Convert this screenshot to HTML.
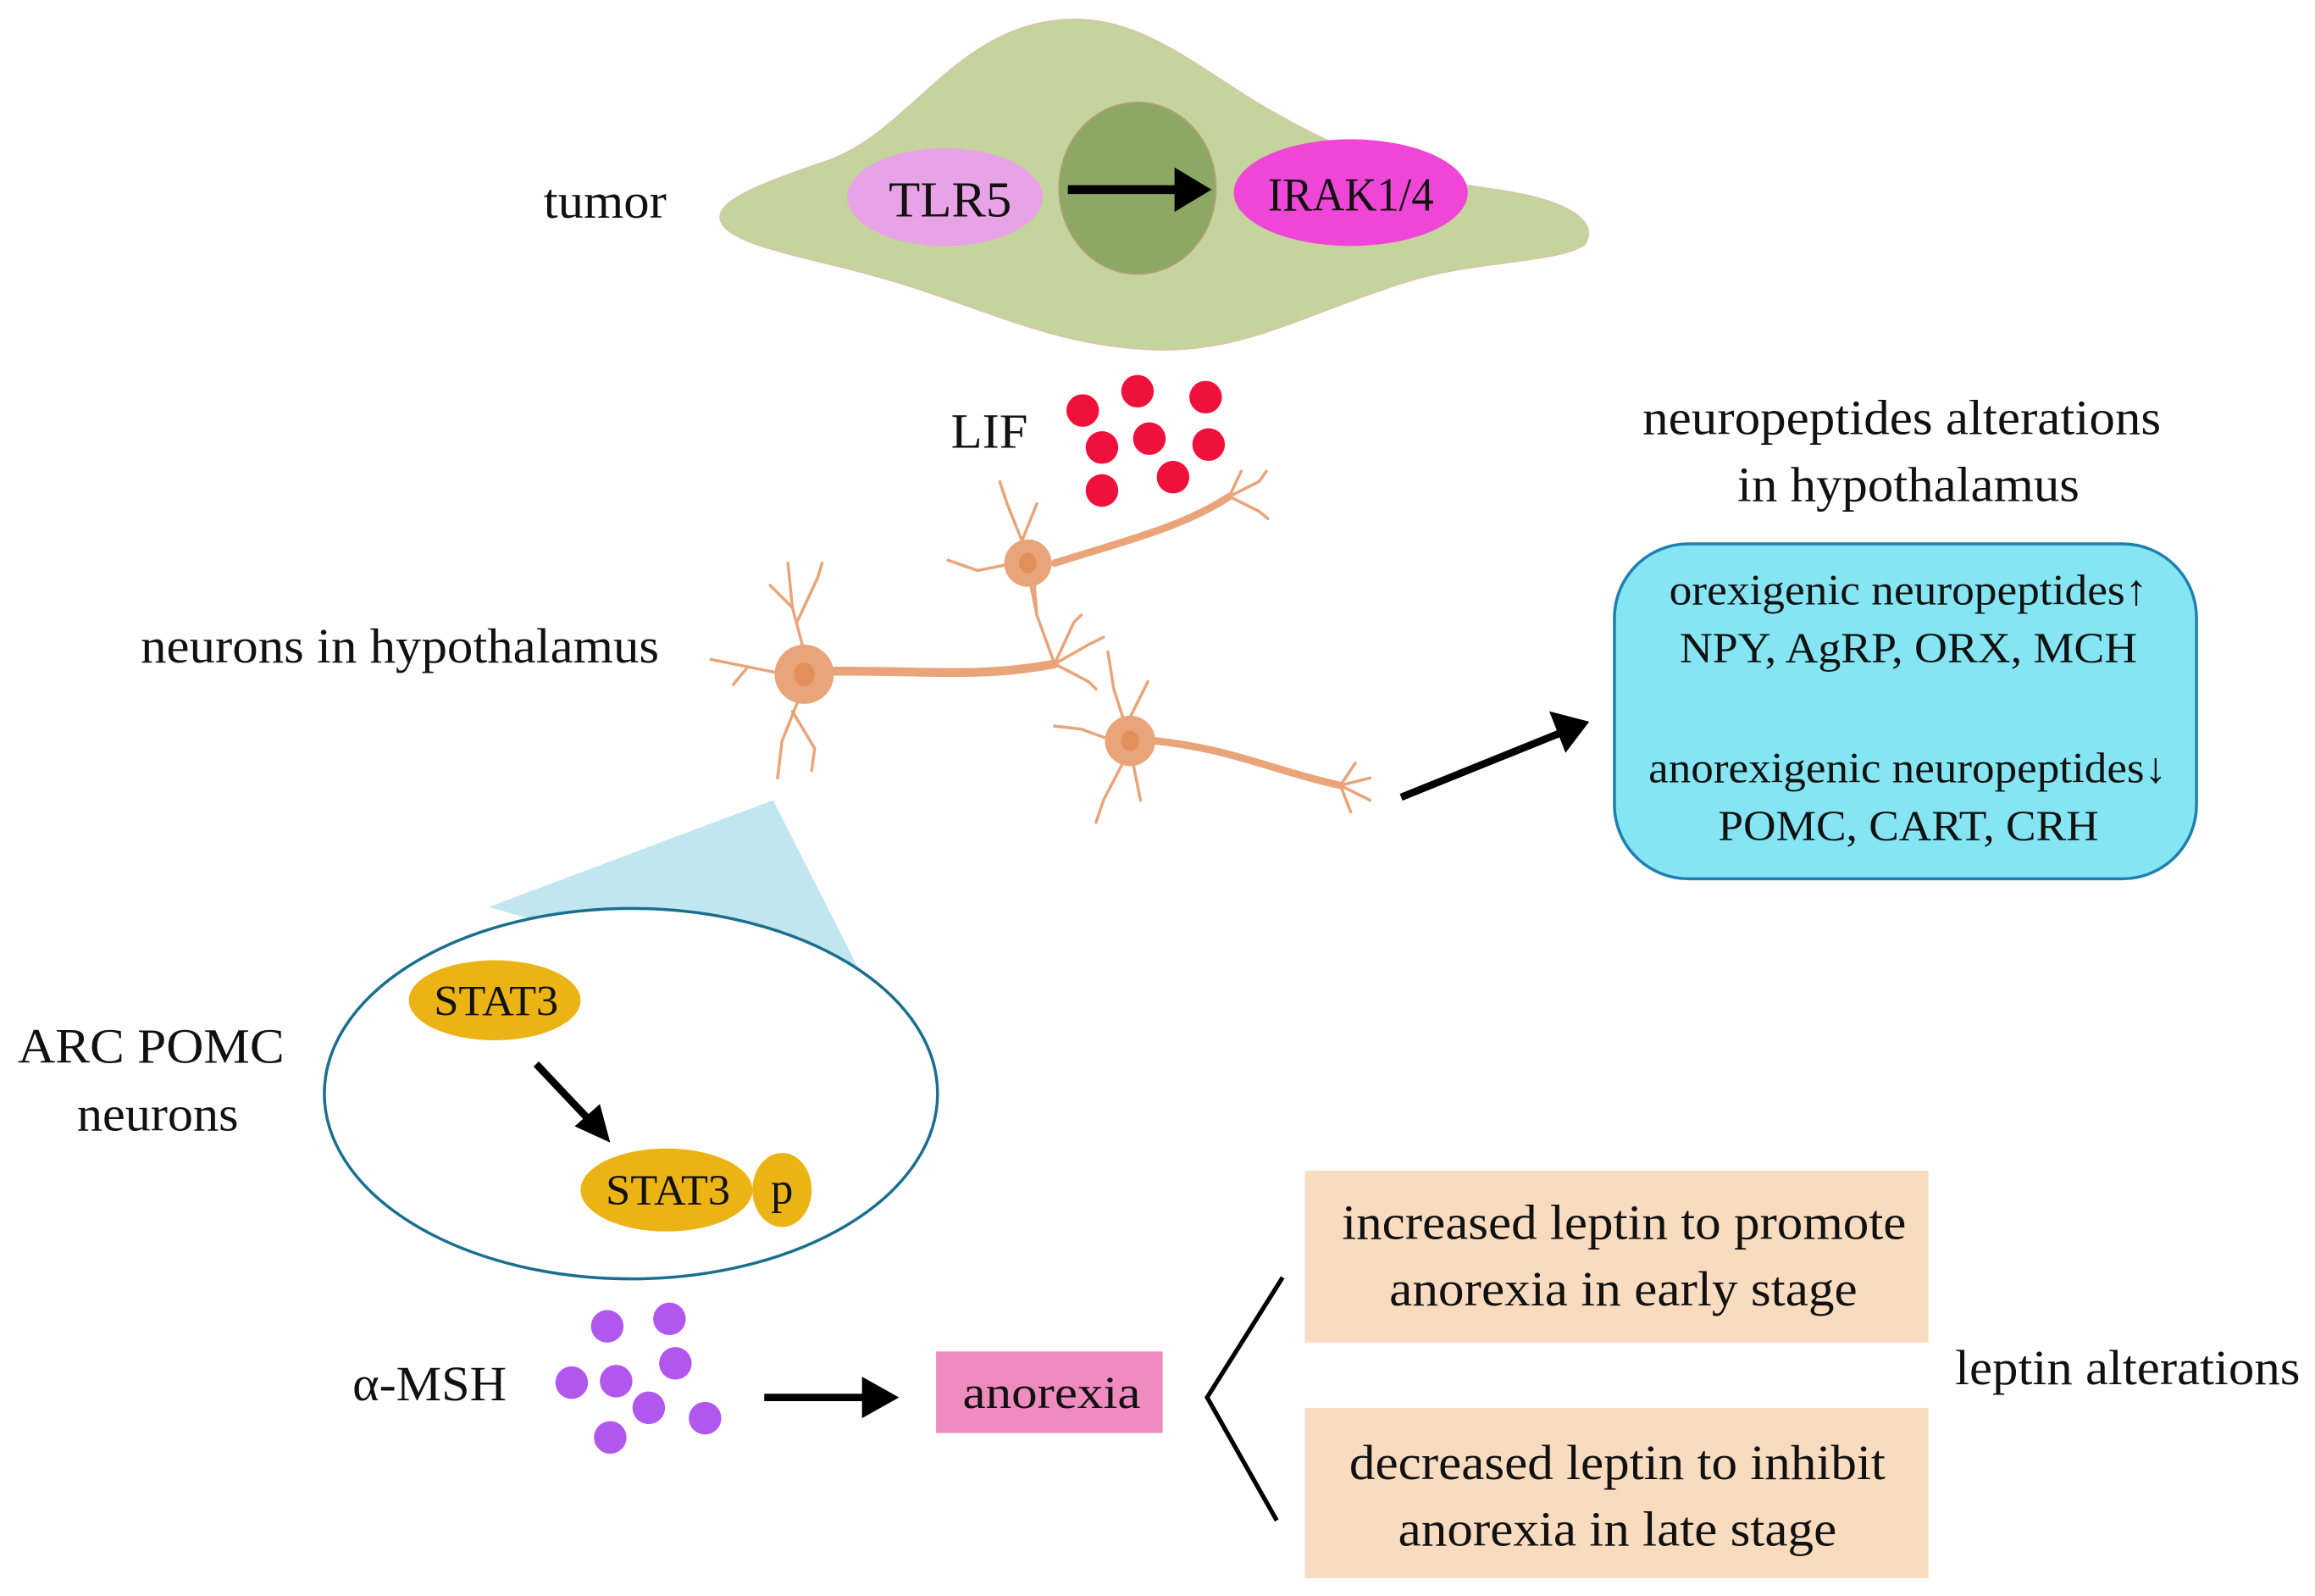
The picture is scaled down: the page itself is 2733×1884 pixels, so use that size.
<!DOCTYPE html>
<html><head><meta charset="utf-8"><style>
html,body{margin:0;padding:0;background:#fff;}
svg{display:block;}
text{font-family:"Liberation Serif",serif;fill:#111;}
</style></head><body>
<svg width="2733" height="1884" viewBox="0 0 1563 1077" preserveAspectRatio="none" xmlns="http://www.w3.org/2000/svg">
<!-- tumor -->
<path d="M487,150 C480,135 520,122 560,108 C610,90 640,30 700,16 C760,2 800,40 850,70 C900,100 950,120 1010,128 C1060,135 1080,150 1070,165 C1050,178 1000,175 950,190 C880,212 840,238 780,236 C720,234 680,215 620,195 C560,175 495,168 487,150 Z" fill="#c5d39c" stroke="#d8c6a8" stroke-width="1"/>
<ellipse cx="768" cy="127" rx="53" ry="58" fill="#8da865" stroke="#b39f77" stroke-width="1"/>
<ellipse cx="638" cy="133" rx="66" ry="33" fill="#e8a2e6"/>
<ellipse cx="912" cy="130" rx="79" ry="36" fill="#f046d8"/>
<text x="600" y="146" font-size="34" textLength="83" lengthAdjust="spacingAndGlyphs">TLR5</text>
<text x="856" y="142" font-size="32" textLength="112" lengthAdjust="spacingAndGlyphs">IRAK1/4</text>
<line x1="721" y1="128" x2="795" y2="128" stroke="#000" stroke-width="6"/>
<path d="M793,113 L818,128 L793,143 Z" fill="#000"/>
<text x="367" y="147" font-size="33" textLength="83" lengthAdjust="spacingAndGlyphs">tumor</text>
<!-- LIF -->
<text x="642" y="302" font-size="33" textLength="52" lengthAdjust="spacingAndGlyphs">LIF</text>
<g fill="#f0103c">
<ellipse cx="731" cy="277" rx="11" ry="11"/><ellipse cx="768" cy="264" rx="11" ry="11"/><ellipse cx="814" cy="268" rx="11" ry="11"/>
<ellipse cx="744" cy="302" rx="11" ry="11"/><ellipse cx="776" cy="296" rx="11" ry="11"/><ellipse cx="816" cy="300" rx="11" ry="11"/>
<ellipse cx="744" cy="331" rx="11" ry="11"/><ellipse cx="792" cy="322" rx="11" ry="11"/>
</g>
<text x="95" y="447" font-size="33" textLength="350" lengthAdjust="spacingAndGlyphs">neurons in hypothalamus</text>
<!-- neurons -->
<g stroke="#eaa47a" fill="none" stroke-linecap="round">
<path d="M560,453 C620,452 660,458 712,448" stroke-width="6"/>
<path d="M712,380 C760,365 800,355 830,335" stroke-width="5"/>
<path d="M780,500 C830,505 860,520 905,530" stroke-width="5"/>
<g stroke-width="2">
<path d="M543,440 L535,410 L532,380 M535,410 L520,395 M538,420 L552,390 L555,380"/>
<path d="M530,455 L505,450 L480,445 M505,450 L495,462"/>
<path d="M540,470 L528,500 L525,525 M535,480 L550,505 L548,520"/>
<path d="M712,448 L735,435 L745,430 M712,448 L735,460 L740,465 M712,448 L725,420 L730,415 M712,448 L700,415 L698,390"/>
<path d="M690,365 L680,340 L675,325 M690,365 L700,340 M685,380 L660,385 L640,378 M695,390 L700,415"/>
<path d="M830,335 L838,318 M830,335 L850,325 L855,318 M830,335 L850,345 L856,350"/>
<path d="M760,490 L752,465 L748,440 M760,490 L775,460 M752,500 L730,492 L712,490 M758,515 L745,540 L740,555 M765,515 L770,540"/>
<path d="M905,530 L915,515 M905,530 L925,525 M905,530 L912,548 M905,530 L925,540"/>
</g>
</g>
<g fill="#eaa47a"><circle cx="543" cy="455" r="20"/><circle cx="694" cy="380" r="16"/><circle cx="763" cy="500" r="17"/></g>
<g fill="#e38f5c"><ellipse cx="543" cy="455" rx="7" ry="8"/><ellipse cx="694" cy="380" rx="6" ry="7"/><ellipse cx="763" cy="500" rx="6" ry="7"/></g>
<!-- right box -->
<text x="1109" y="293" font-size="33" textLength="350" lengthAdjust="spacingAndGlyphs">neuropeptides alterations</text>
<text x="1173" y="338" font-size="33" textLength="231" lengthAdjust="spacingAndGlyphs">in hypothalamus</text>
<rect x="1090" y="367" width="393" height="226" rx="50" fill="#85e5f3" stroke="#1d80b0" stroke-width="2"/>
<g font-size="29">
<text x="1127" y="408" textLength="323" lengthAdjust="spacingAndGlyphs">orexigenic neuropeptides↑</text>
<text x="1134" y="447" textLength="309" lengthAdjust="spacingAndGlyphs">NPY, AgRP, ORX, MCH</text>
<text x="1113" y="528" textLength="350" lengthAdjust="spacingAndGlyphs">anorexigenic neuropeptides↓</text>
<text x="1160" y="567" textLength="257" lengthAdjust="spacingAndGlyphs">POMC, CART, CRH</text>
</g>
<line x1="946" y1="538" x2="1055" y2="494" stroke="#000" stroke-width="5"/>
<path d="M1046,480 L1073,487 L1057,508 Z" fill="#000"/>
<!-- zoom triangle + ellipse -->
<polygon points="522,540 330,612 598,690" fill="#c2e6ef"/>
<ellipse cx="426" cy="738" rx="207" ry="125" fill="#fff" stroke="#1a6f8f" stroke-width="2"/>
<ellipse cx="334" cy="675" rx="58" ry="27" fill="#ebb313"/>
<text x="293" y="685" font-size="29" textLength="84" lengthAdjust="spacingAndGlyphs">STAT3</text>
<ellipse cx="528" cy="803" rx="20" ry="25" fill="#ebb313"/>
<ellipse cx="450" cy="803" rx="58" ry="28" fill="#ebb313"/>
<text x="409" y="813" font-size="29" textLength="84" lengthAdjust="spacingAndGlyphs">STAT3</text>
<text x="528" y="812" font-size="30" text-anchor="middle">p</text>
<line x1="362" y1="718" x2="398" y2="756" stroke="#000" stroke-width="5"/>
<path d="M388,760 L412,771 L405,745 Z" fill="#000"/>
<text x="12" y="717" font-size="33" textLength="180" lengthAdjust="spacingAndGlyphs">ARC POMC</text>
<text x="52" y="763" font-size="33" textLength="109" lengthAdjust="spacingAndGlyphs">neurons</text>
<!-- alpha MSH -->
<text x="238" y="945" font-size="33" textLength="104" lengthAdjust="spacingAndGlyphs">α-MSH</text>
<g fill="#b257ee">
<ellipse cx="410" cy="895" rx="11" ry="11"/><ellipse cx="452" cy="890" rx="11" ry="11"/><ellipse cx="386" cy="933" rx="11" ry="11"/>
<ellipse cx="416" cy="932" rx="11" ry="11"/><ellipse cx="456" cy="920" rx="11" ry="11"/><ellipse cx="438" cy="950" rx="11" ry="11"/>
<ellipse cx="476" cy="957" rx="11" ry="11"/><ellipse cx="412" cy="970" rx="11" ry="11"/>
</g>
<line x1="516" y1="943" x2="585" y2="943" stroke="#000" stroke-width="5"/>
<path d="M582,929 L607,943 L582,957 Z" fill="#000"/>
<rect x="632" y="912" width="153" height="55" fill="#f08bbf"/>
<text x="650" y="950" font-size="31" textLength="120" lengthAdjust="spacingAndGlyphs">anorexia</text>
<path d="M866,862 L815,943 L862,1026" fill="none" stroke="#000" stroke-width="3"/>
<rect x="881" y="790" width="421" height="116" fill="#f9dcbf"/>
<rect x="881" y="950" width="421" height="115" fill="#f9dcbf"/>
<g font-size="33">
<text x="906" y="836" textLength="381" lengthAdjust="spacingAndGlyphs">increased leptin to promote</text>
<text x="938" y="881" textLength="316" lengthAdjust="spacingAndGlyphs">anorexia in early stage</text>
<text x="911" y="998" textLength="362" lengthAdjust="spacingAndGlyphs">decreased leptin to inhibit</text>
<text x="944" y="1043" textLength="296" lengthAdjust="spacingAndGlyphs">anorexia in late stage</text>
<text x="1320" y="934" textLength="233" lengthAdjust="spacingAndGlyphs">leptin alterations</text>
</g>
</svg>
</body></html>
